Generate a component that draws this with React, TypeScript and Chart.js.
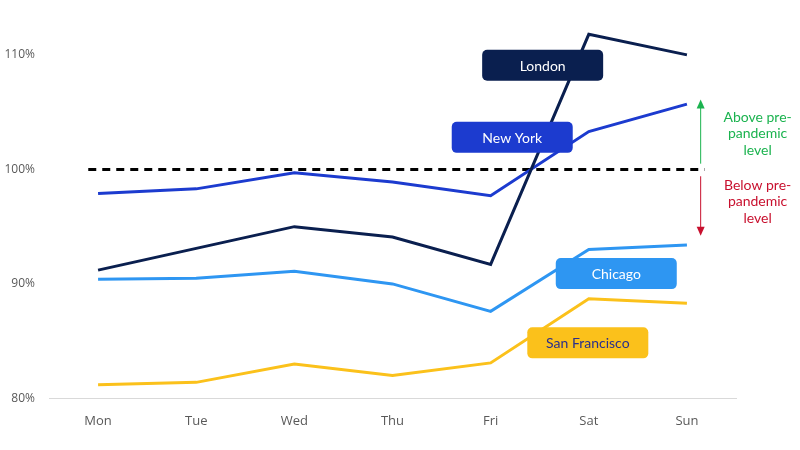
import React, { useEffect, useRef } from "react";
import { Chart, registerables } from "chart.js";

Chart.register(...registerables);

const days = ["Mon", "Tue", "Wed", "Thu", "Fri", "Sat", "Sun"];
const london = [91.2, 93.1, 95.0, 94.1, 91.7, 111.8, 110.0];
const newYork = [97.9, 98.3, 99.7, 98.9, 97.7, 103.3, 105.7];
const chicago = [90.4, 90.5, 91.1, 90.0, 87.6, 93.0, 93.4];
const sanFrancisco = [81.2, 81.4, 83.0, 82.0, 83.1, 88.7, 88.3];
const yTicks = [80, 90, 100, 110];
const baseline = 100;

const cityNames = ["London", "New York", "Chicago", "San Francisco"];
const cityColors = ["#0a1f4f", "#1c3bcf", "#2e96f2", "#fbc11b"];
const labelTextColors = ["#ffffff", "#ffffff", "#ffffff", "#2a2f8c"];
// annotation anchors: [x index, y value]
const labelAnchors = [
  [4.53, 109.1],
  [4.22, 102.8],
  [5.28, 90.9],
  [4.99, 84.85],
];

const annotationPlugin = {
  id: "annot",
  beforeDatasetsDraw(chart: any) {
    const { ctx, scales } = chart;
    const x = scales.x;
    const y = scales.y;
    const yb = y.getPixelForValue(baseline);
    ctx.save();
    ctx.strokeStyle = "#000000";
    ctx.lineWidth = 3;
    ctx.setLineDash([8, 6]);
    ctx.beginPath();
    ctx.moveTo(x.getPixelForValue(-0.1), yb);
    ctx.lineTo(x.getPixelForValue(6.18), yb);
    ctx.stroke();
    ctx.restore();
  },
  afterDatasetsDraw(chart: any) {
    const { ctx, scales } = chart;
    const x = scales.x;
    const y = scales.y;
    ctx.save();
    cityNames.forEach((name, i) => {
      const cx = x.getPixelForValue(labelAnchors[i][0]);
      const cy = y.getPixelForValue(labelAnchors[i][1]);
      const w = 121;
      const h = 31;
      ctx.fillStyle = cityColors[i];
      ctx.beginPath();
      (ctx as any).roundRect(cx - w / 2, cy - h / 2, w, h, 5);
      ctx.fill();
      ctx.fillStyle = labelTextColors[i];
      ctx.font = "14px Lato";
      ctx.textAlign = "center";
      ctx.textBaseline = "middle";
      ctx.fillText(name, cx, cy + 1);
    });
    const ax = x.getPixelForValue(6.14);
    const drawArrow = (from: number, to: number, color: string) => {
      const y1 = y.getPixelForValue(from);
      const y2 = y.getPixelForValue(to);
      const dir = y2 < y1 ? -1 : 1;
      ctx.strokeStyle = color;
      ctx.fillStyle = color;
      ctx.lineWidth = 1;
      ctx.beginPath();
      ctx.moveTo(ax, y1);
      ctx.lineTo(ax, y2 - dir * 6);
      ctx.stroke();
      ctx.beginPath();
      ctx.moveTo(ax, y2);
      ctx.lineTo(ax - 4, y2 - dir * 9);
      ctx.lineTo(ax + 4, y2 - dir * 9);
      ctx.closePath();
      ctx.fill();
    };
    drawArrow(100.5, 106.1, "#1bb34f");
    drawArrow(99.4, 94.2, "#c8102e");
    const tx = x.getPixelForValue(6.72);
    ctx.font = "14px Lato";
    ctx.textAlign = "center";
    ctx.textBaseline = "middle";
    const above = ["Above pre-", "pandemic", "level"];
    const below = ["Below pre-", "pandemic", "level"];
    ctx.fillStyle = "#1bb34f";
    above.forEach((t, i) => ctx.fillText(t, tx, 117 + i * 16.5));
    ctx.fillStyle = "#c8102e";
    below.forEach((t, i) => ctx.fillText(t, tx, 185 + i * 16.5));
    ctx.restore();
  },
};

export default function App() {
  const ref = useRef<HTMLCanvasElement>(null);
  useEffect(() => {
    document.body.style.margin = "0";
    const series = [london, newYork, chicago, sanFrancisco];
    const chart = new Chart(ref.current as HTMLCanvasElement, {
      type: "line",
      data: {
        labels: days,
        datasets: series.map((d, i) => ({
          label: cityNames[i],
          data: d,
          borderColor: cityColors[i],
          backgroundColor: cityColors[i],
          borderWidth: 3,
          pointRadius: 0,
          tension: 0,
        })),
      },
      options: {
        animation: false,
        responsive: false,
        layout: { padding: { top: 32, right: 64, left: 0, bottom: 6 } },
        plugins: { legend: { display: false }, tooltip: { enabled: false } },
        scales: {
          x: {
            offset: true,
            grid: { display: false, drawTicks: false },
            border: { display: true, color: "#d9d9d9", width: 1 },
            ticks: {
              color: "#595959",
              font: { family: "'Open Sans'", size: 13 },
              padding: 15,
            },
          },
          y: {
            min: 80,
            max: 112,
            grid: { display: false, drawTicks: false },
            border: { display: false },
            afterBuildTicks: (s: any) => {
              s.ticks = yTicks.map((v) => ({ value: v }));
            },
            afterFit: (s: any) => {
              s.width = 49;
            },
            ticks: {
              color: "#595959",
              padding: 14,
              font: { family: "'Open Sans'", size: 12 },
              callback: (v: any) => v + "%",
            },
          },
        },
      },
      plugins: [annotationPlugin],
    });
    return () => chart.destroy();
  }, []);
  return (
    <div style={{ position: "absolute", left: 0, top: 0, width: 800, height: 450 }}>
      <canvas ref={ref} width={800} height={450} />
    </div>
  );
}
